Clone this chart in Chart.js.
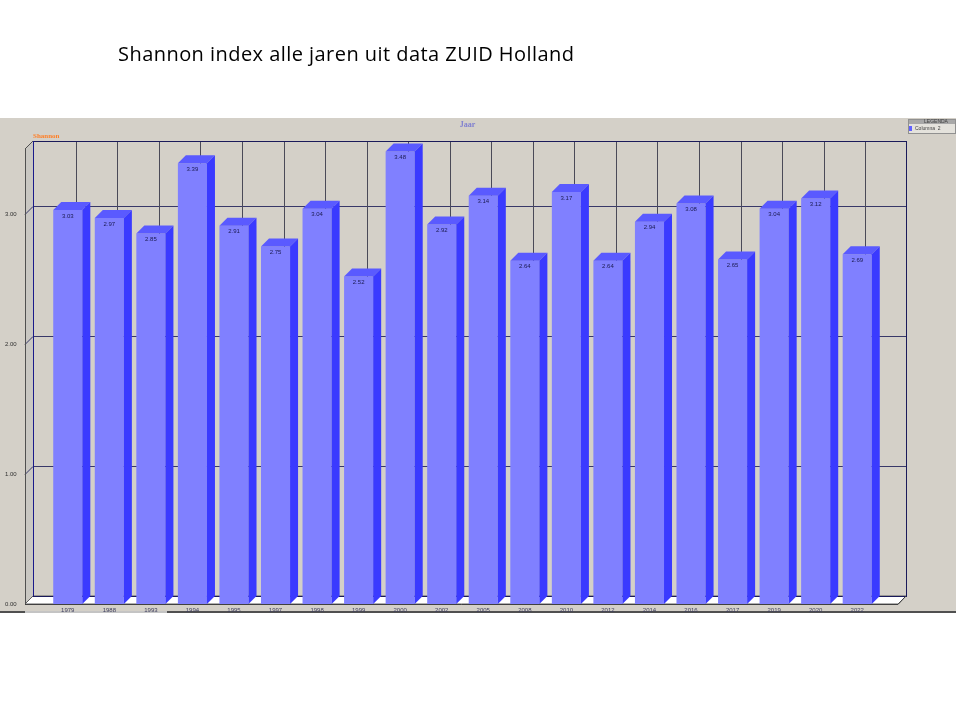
<!DOCTYPE html>
<html><head><meta charset="utf-8">
<script src="https://cdn.jsdelivr.net/npm/chart.js@4"></script>
<style>
html,body{margin:0;padding:0;background:#fff;overflow:hidden}
#wrap{position:relative;width:960px;height:720px}
#title{position:absolute;left:118px;top:44px;font:20px 'Open Sans',Lato,sans-serif;line-height:20px;color:#000;white-space:nowrap}
</style></head><body>
<div id="wrap"><canvas id="c" width="960" height="720"></canvas><div id="title">Shannon index alle jaren uit data ZUID Holland</div></div>
<script>
const years = ['1979','1988','1993','1994','1995','1997','1998','1999','2000','2002','2005','2008','2010','2012','2014','2016','2017','2019','2020','2022'];
const shannon = [3.03,2.97,2.85,3.39,2.91,2.75,3.04,2.52,3.48,2.92,3.14,2.64,3.17,2.64,2.94,3.08,2.65,3.04,3.12,2.69];
const yTicks = [0,1,2,3];
const seriesName = 'Columna  2';
const xTitle = 'Jaar';
const yTitle = 'Shannon';
const legendTitle = 'LEGENDA';

const D = 8;
const small = '6px "Liberation Sans", Arial, sans-serif';

// fit main title to the reference width
(function(){
  const t = document.getElementById('title');
  const w = t.getBoundingClientRect().width;
  const target = 456;
  const n = t.textContent.length - 1;
  t.style.letterSpacing = ((target - w) / n).toFixed(3) + 'px';
})();

const deco = {
  id: 'deco',
  beforeDraw(chart) {
    const ctx = chart.ctx;
    ctx.save();
    ctx.fillStyle = '#ffffff';
    ctx.fillRect(0, 0, 960, 720);
    ctx.fillStyle = '#d4d0c8';
    ctx.fillRect(0, 118, 956, 494);
    ctx.fillStyle = '#505050';
    ctx.fillRect(0, 611, 956, 2);
    ctx.fillStyle = '#c4c4c4';
    ctx.fillRect(25, 611, 142, 2);
    ctx.restore();
  },
  beforeDatasetsDraw(chart) {
    const ctx = chart.ctx, ca = chart.chartArea, xs = chart.scales.x, ys = chart.scales.y;
    const fl = ca.left - 22, fr = ca.right + 20, top = ca.top, bot = ca.bottom;
    ctx.save();
    ctx.fillStyle = '#c9c7c2';
    ctx.beginPath();
    ctx.moveTo(fl, top); ctx.lineTo(fl + D, top - D); ctx.lineTo(fl + D, bot - D); ctx.lineTo(fl, bot); ctx.closePath();
    ctx.fill();
    ctx.fillStyle = '#ffffff';
    ctx.beginPath();
    ctx.moveTo(fl, bot); ctx.lineTo(fl + D, bot - D); ctx.lineTo(fr + D, bot - D); ctx.lineTo(fr, bot); ctx.closePath();
    ctx.fill();
    ctx.strokeStyle = '#606060'; ctx.lineWidth = 1;
    ctx.stroke();
    ctx.strokeStyle = '#383868';
    yTicks.forEach(v => {
      if (v === 0) return;
      const py = Math.round(ys.getPixelForValue(v)) + 0.5;
      ctx.beginPath();
      ctx.moveTo(fl, py); ctx.lineTo(fl + D, py - D); ctx.lineTo(fr + D, py - D);
      ctx.stroke();
    });
    ctx.strokeStyle = '#4a4a58';
    years.forEach((y, i) => {
      const px = Math.round(xs.getPixelForValue(i) + D) + 0.5;
      ctx.beginPath(); ctx.moveTo(px, top - D); ctx.lineTo(px, bot - D); ctx.stroke();
    });
    ctx.strokeStyle = '#1a1a5a';
    ctx.strokeRect(Math.round(fl + D) + 0.5, Math.round(top - D) + 0.5, Math.round(fr - fl), Math.round(bot - top));
    ctx.strokeStyle = '#505050';
    ctx.beginPath();
    ctx.moveTo(fl + 0.5, top); ctx.lineTo(fl + 0.5, bot);
    ctx.moveTo(fl, top); ctx.lineTo(fl + D, top - D);
    ctx.stroke();
    ctx.strokeStyle = '#1a1a8a';
    ctx.beginPath();
    ctx.moveTo(Math.round(fl + D) + 0.5, top - D); ctx.lineTo(Math.round(fl + D) + 0.5, bot - D);
    ctx.stroke();
    ctx.strokeStyle = '#404040';
    ctx.beginPath();
    ctx.moveTo(fl, bot + 0.5); ctx.lineTo(fr, bot + 0.5); ctx.lineTo(fr + D, bot - D);
    ctx.stroke();
    ctx.font = 'bold 7px "Liberation Serif", serif';
    ctx.fillStyle = '#ff7f27';
    ctx.textAlign = 'left'; ctx.textBaseline = 'middle';
    ctx.fillText(yTitle, fl + D, top - 13);
    ctx.font = 'bold 8px "Liberation Serif", serif';
    ctx.fillStyle = '#8080d0';
    ctx.textAlign = 'center';
    ctx.fillText(xTitle, (fl + fr) / 2 + 6, 125);
    const lx = 908, ly = 119, lw = 48;
    ctx.fillStyle = '#e4e2dc';
    ctx.fillRect(lx, ly, lw, 15);
    ctx.fillStyle = '#a8a8a8';
    ctx.fillRect(lx, ly, lw, 5);
    ctx.strokeStyle = '#909090';
    ctx.strokeRect(lx + 0.5, ly + 0.5, lw - 1, 14);
    ctx.font = '5px "Liberation Sans", Arial, sans-serif';
    ctx.fillStyle = '#404040';
    ctx.fillText(legendTitle, lx + lw / 2 + 4, ly + 2.7);
    ctx.fillStyle = '#6060ff';
    ctx.fillRect(lx + 1, ly + 7, 3, 5);
    ctx.fillStyle = '#404040';
    ctx.textAlign = 'left';
    ctx.fillText(chart.data.datasets[0].label, lx + 7, ly + 10);
    ctx.restore();
  },
  afterDatasetsDraw(chart) {
    const ctx = chart.ctx;
    const meta = chart.getDatasetMeta(0);
    ctx.save();
    meta.data.forEach((bar, i) => {
      const p = bar.getProps(['x', 'y', 'width', 'base'], true);
      const xl = p.x - p.width / 2, xr = p.x + p.width / 2;
      ctx.fillStyle = '#5a5aff';
      ctx.beginPath();
      ctx.moveTo(xl, p.y); ctx.lineTo(xl + D, p.y - D); ctx.lineTo(xr + D, p.y - D); ctx.lineTo(xr, p.y); ctx.closePath();
      ctx.fill();
      ctx.fillStyle = '#3a3aff';
      ctx.beginPath();
      ctx.moveTo(xr, p.y); ctx.lineTo(xr + D, p.y - D); ctx.lineTo(xr + D, p.base - D); ctx.lineTo(xr, p.base); ctx.closePath();
      ctx.fill();
      ctx.font = small;
      ctx.fillStyle = '#1a1a50';
      ctx.textAlign = 'center'; ctx.textBaseline = 'middle';
      ctx.fillText(shannon[i].toFixed(2), p.x, p.y + 6);
    });
    ctx.restore();
  }
};

new Chart(document.getElementById('c'), {
  type: 'bar',
  data: {
    labels: years,
    datasets: [{
      label: seriesName,
      data: shannon,
      backgroundColor: '#8080ff',
      borderWidth: 0,
      barPercentage: 0.7,
      categoryPercentage: 1.0
    }]
  },
  options: {
    responsive: false,
    animation: false,
    devicePixelRatio: 1,
    layout: { padding: { top: 149, left: 5, right: 82, bottom: 106 } },
    plugins: { legend: { display: false }, tooltip: { enabled: false } },
    scales: {
      x: {
        grid: { display: false, drawTicks: false },
        border: { display: false },
        ticks: { font: { size: 6, family: '"Liberation Sans", Arial, sans-serif' }, color: '#404060', maxRotation: 0, autoSkip: false, padding: 3 },
        afterFit(s) { s.height = 10; }
      },
      y: {
        min: 0, max: 3.5,
        grid: { display: false, drawTicks: false },
        border: { display: false },
        afterBuildTicks(s) { s.ticks = yTicks.map(v => ({ value: v })); },
        ticks: { font: { size: 6, family: '"Liberation Sans", Arial, sans-serif' }, color: '#303030', crossAlign: 'far', padding: 0,
          callback: v => Number(v).toFixed(2) },
        afterFit(s) { s.width = 42; }
      }
    }
  },
  plugins: [deco]
});
</script>
</body></html>
